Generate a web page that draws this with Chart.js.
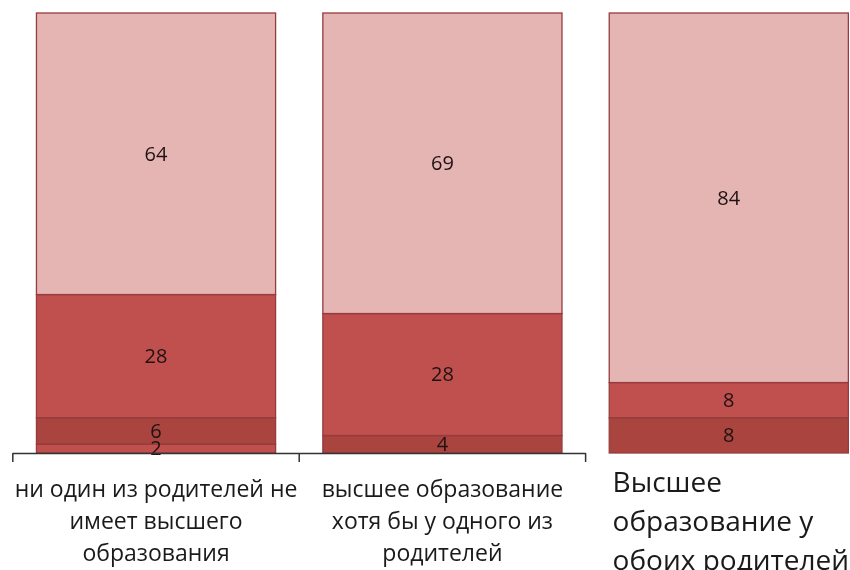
<!DOCTYPE html>
<html>
<head>
<meta charset="utf-8">
<script src="https://cdn.jsdelivr.net/npm/chart.js@4"></script>
<style>
    body { margin: 0; background: #fff; overflow: hidden; }
    #wrap { width: 850px; height: 570px; overflow: hidden; }
</style>
</head>
<body>
<div id="wrap"><canvas id="chart" width="872" height="570"></canvas></div>
<script>
// categories (each label split into lines)
const categories = [
    ['ни один из родителей не', 'имеет высшего', 'образования'],
    ['высшее образование', 'хотя бы у одного из', 'родителей'],
    ['Высшее', 'образование у', 'обоих родителей']
];
// series, bottom to top (%)
const bottomValues = [2, null, null];
const darkValues = [6, 4, 8];
const midValues = [28, 28, 8];
const topValues = [64, 69, 84];

const series = [bottomValues, darkValues, midValues, topValues];
const colors = ['#c0504d', '#a9443f', '#c0504d', '#e5b5b4'];

// each bar is drawn as 100%
const totals = categories.map((c, i) => series.reduce((s, arr) => s + (arr[i] || 0), 0));

const labelPlugin = {
    id: 'segLabels',
    afterDatasetsDraw(chart) {
        const ctx = chart.ctx;
        ctx.save();
        // outlines of every segment
        ctx.strokeStyle = '#973c3e';
        ctx.lineWidth = 1.3;
        chart.data.datasets.forEach((ds, d) => {
            chart.getDatasetMeta(d).data.forEach((bar, i) => {
                if (series[d][i] == null) return;
                ctx.strokeRect(bar.x - bar.width / 2, bar.y, bar.width, bar.base - bar.y);
            });
        });
        ctx.font = '20px "Open Sans"';
        ctx.fillStyle = '#1e1212';
        ctx.textAlign = 'center';
        ctx.textBaseline = 'middle';
        chart.data.datasets.forEach((ds, d) => {
            chart.getDatasetMeta(d).data.forEach((bar, i) => {
                const v = series[d][i];
                if (v == null) return;
                ctx.fillText(String(v), bar.x, (bar.y + bar.base) / 2 + 1);
            });
        });
        ctx.restore();
    },
    afterDraw(chart) {
        const ctx = chart.ctx;
        const x = chart.scales.x;
        const y0 = chart.chartArea.bottom;
        const edge = i => (x.getPixelForValue(i - 1) + x.getPixelForValue(i)) / 2;
        ctx.save();
        // axis line only under the first two groups
        ctx.strokeStyle = '#333';
        ctx.lineWidth = 1.5;
        ctx.beginPath();
        ctx.moveTo(edge(0), y0 + 0.5);
        ctx.lineTo(edge(2), y0 + 0.5);
        for (let i = 0; i < 3; i++) {
            ctx.moveTo(edge(i), y0);
            ctx.lineTo(edge(i), y0 + 9);
        }
        ctx.stroke();
        // third label is bigger and left aligned
        ctx.fillStyle = '#1a1a1a';
        ctx.font = '28px "Open Sans"';
        ctx.textAlign = 'left';
        ctx.textBaseline = 'middle';
        categories[2].forEach((line, k) => {
            ctx.fillText(line, edge(2) + 27, 484 + k * 39);
        });
        ctx.restore();
    }
};

new Chart(document.getElementById('chart'), {
    type: 'bar',
    data: {
        labels: categories,
        datasets: series.map((arr, d) => ({
            data: arr.map((v, i) => v == null ? null : v / totals[i] * 100),
            backgroundColor: colors[d],
            borderWidth: 0,
            barPercentage: 0.835,
            categoryPercentage: 1
        }))
    },
    options: {
        responsive: false,
        animation: false,
        layout: { padding: { top: 13, left: 10, right: 0, bottom: 0 } },
        plugins: { legend: { display: false }, tooltip: { enabled: false } },
        scales: {
            x: {
                stacked: true,
                border: { display: false },
                grid: { display: false },
                ticks: {
                    color: '#1a1a1a',
                    font: { family: 'Open Sans', size: 23, lineHeight: 1.4 },
                    maxRotation: 0,
                    autoSkip: false,
                    padding: 13,
                    callback: (v, i) => i === 2 ? '' : categories[i]
                },
                afterFit: s => { s.height = 117; }
            },
            y: {
                stacked: true,
                display: false,
                min: 0,
                max: 100
            }
        }
    },
    plugins: [labelPlugin]
});
</script>
</body>
</html>
